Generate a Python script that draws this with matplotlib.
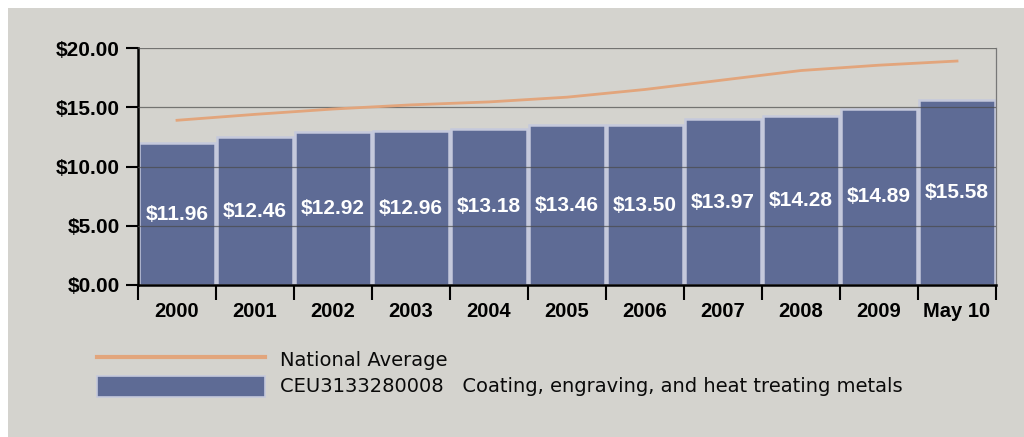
import matplotlib
matplotlib.use("Agg")
import matplotlib.pyplot as plt
from matplotlib.patches import Rectangle
from matplotlib.lines import Line2D

# Hourly earnings, coating/engraving/heat treating vs national average
periods = ["2000", "2001", "2002", "2003", "2004", "2005",
           "2006", "2007", "2008", "2009", "May 10"]
industry_wage = [11.96, 12.46, 12.92, 12.96, 13.18, 13.46,
                 13.50, 13.97, 14.28, 14.89, 15.58]
national_avg = [13.9, 14.4, 14.85, 15.2, 15.45, 15.85,
                16.5, 17.3, 18.1, 18.55, 18.9]
y_ticks = [0, 5, 10, 15, 20]

series_label = "CEU3133280008   Coating, engraving, and heat treating metals"
line_label = "National Average"

BG = "#d4d3ce"
BAR = "#5e6b95"
BAR_EDGE = "#c5c9dc"
LINE = "#e2a57c"
TICK_FONT = ["Liberation Sans", "DejaVu Sans"]
LEGEND_FONT = ["DejaVu Sans"]

W, H = 1024, 437

fig = plt.figure(figsize=(W / 100, H / 100), dpi=100, facecolor="white")
fig.patches.append(Rectangle((8 / W, 0), 1, 1 - 8 / H,
                             transform=fig.transFigure, facecolor=BG,
                             edgecolor="none", zorder=-10))

ax = fig.add_axes([138 / W, 1 - 285 / H, 858 / W, 237 / H])
ax.set_facecolor(BG)

x = list(range(len(periods)))
ax.bar(x, industry_wage, width=0.97, color=BAR,
       edgecolor=BAR_EDGE, linewidth=1.8, zorder=2)
ax.plot(x, national_avg, color=LINE, linewidth=2.0, zorder=4)

for xi, v in zip(x, industry_wage):
    ax.text(xi, v / 2, f"${v:.2f}", ha="center", va="center",
            color="white", fontsize=15, fontweight="bold",
            family=TICK_FONT, zorder=5)

for t in y_ticks[1:]:
    ax.axhline(t, color="#4a4a4a", linewidth=0.9, alpha=0.7, zorder=3)

ax.set_xlim(-0.5, len(periods) - 0.5)
ax.set_ylim(0, 20)
ax.set_yticks(y_ticks)
ax.set_yticklabels([f"${t:.2f}" for t in y_ticks],
                   fontsize=15, fontweight="bold", family=TICK_FONT)

# category boundary ticks on the x axis, labels centered between them
ax.set_xticks([i - 0.5 for i in range(len(periods) + 1)])
ax.set_xticklabels([])
ax.set_xticks(x, minor=True)
ax.set_xticklabels(periods, minor=True, fontsize=14.5, fontweight="bold",
                   family=TICK_FONT)
ax.tick_params(axis="x", which="major", direction="out", length=11,
               width=1.5, color="black")
ax.tick_params(axis="x", which="minor", length=0, pad=12)
ax.tick_params(axis="y", direction="out", length=9, width=1.5, pad=4)

for side in ["left", "bottom"]:
    ax.spines[side].set_linewidth(1.8)
    ax.spines[side].set_color("black")
ax.spines["right"].set_color("#777777")
ax.spines["right"].set_linewidth(0.9)
ax.spines["top"].set_visible(False)

# legend drawn by hand: line swatch, bar swatch, labels
fig.add_artist(Line2D([97 / W, 265 / W], [1 - 357 / H, 1 - 357 / H],
                      transform=fig.transFigure, color=LINE, linewidth=3))
fig.add_artist(Rectangle((97 / W, 1 - 397 / H), 168 / W, 21 / H,
                         transform=fig.transFigure, facecolor=BAR,
                         edgecolor=BAR_EDGE, linewidth=1.2))
fig.text(280 / W, 1 - 361 / H, line_label, ha="left", va="center",
         fontsize=14, family=LEGEND_FONT, color="#0a0a0a")
fig.text(280 / W, 1 - 387 / H, series_label, ha="left", va="center",
         fontsize=14, family=LEGEND_FONT, color="#0a0a0a")

fig.savefig("out.png", dpi=100, facecolor=fig.get_facecolor())
